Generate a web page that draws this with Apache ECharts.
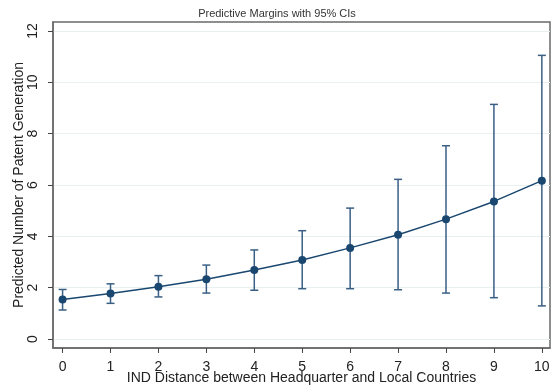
<!DOCTYPE html>
<html>
<head>
<meta charset="utf-8">
<script src="https://cdn.jsdelivr.net/npm/echarts@6/dist/echarts.min.js"></script>
<style>
  html, body { margin: 0; padding: 0; background: #fff; }
  #chart { width: 554px; height: 392px; }
</style>
</head>
<body>
<div id="chart"></div>
<script>
// IND distance levels
const distance = [0, 1, 2, 3, 4, 5, 6, 7, 8, 9, 10];
// predicted margins and 95% confidence bounds
const margin = [1.54, 1.77, 2.04, 2.33, 2.69, 3.08, 3.55, 4.06, 4.67, 5.36, 6.17];
const ciLow  = [1.13, 1.39, 1.64, 1.79, 1.90, 1.96, 1.96, 1.92, 1.79, 1.61, 1.29];
const ciHigh = [1.93, 2.15, 2.47, 2.88, 3.47, 4.22, 5.10, 6.22, 7.53, 9.14, 11.05];
// tick labels
const xTicks = [0, 1, 2, 3, 4, 5, 6, 7, 8, 9, 10];
const yTicks = [0, 2, 4, 6, 8, 10, 12];

const navy = '#1a476f';
const font = 'Liberation Sans, Arial, sans-serif';

const chart = echarts.init(document.getElementById('chart'), null, { renderer: 'canvas' });

const ciData = distance.map((d, i) => [d, ciLow[i], ciHigh[i]]);
const lineData = distance.map((d, i) => [d, margin[i]]);

chart.setOption({
  animation: false,
  title: {
    text: 'Predictive Margins with 95% CIs',
    left: 'center',
    top: 3,
    textStyle: { fontFamily: font, fontSize: 11, fontWeight: 'normal', color: '#333' }
  },
  grid: {
    left: 53, right: 4, top: 22, bottom: 44,
    outerBoundsMode: 'none',
    containLabel: false,
    show: true, borderColor: '#6a6a6a', borderWidth: 1.5, backgroundColor: '#fff'
  },
  xAxis: {
    type: 'value',
    min: -0.2,
    max: 10.17,
    name: 'IND Distance between Headquarter and Local Countries',
    nameLocation: 'middle',
    nameGap: 23,
    nameMoveOverlap: false,
    nameTextStyle: { fontFamily: font, fontSize: 14, color: '#222' },
    axisLine: { show: true, onZero: false, lineStyle: { color: '#6a6a6a', width: 1.5 } },
    axisTick: { show: true, length: 5, customValues: xTicks, lineStyle: { color: '#444' } },
    axisLabel: { customValues: xTicks, fontFamily: font, fontSize: 14, color: '#222', margin: 12 },
    splitLine: { show: false }
  },
  yAxis: {
    type: 'value',
    min: -0.35,
    max: 12.35,
    name: 'Predicted Number of Patent Generation',
    nameLocation: 'middle',
    nameGap: 27,
    nameMoveOverlap: false,
    nameTextStyle: { fontFamily: font, fontSize: 14, color: '#222' },
    axisLine: { show: true, onZero: false, lineStyle: { color: '#6a6a6a', width: 1.5 } },
    axisTick: { show: true, length: 5, customValues: yTicks, lineStyle: { color: '#444' } },
    axisLabel: { customValues: yTicks, rotate: 90, fontFamily: font, fontSize: 14, color: '#222', margin: 13 },
    splitLine: { show: true, lineStyle: { color: '#e8f0f2', width: 1 } }
  },
  series: [
    {
      type: 'custom',
      name: 'CI',
      data: ciData,
      z: 2,
      renderItem: function (params, api) {
        const x = api.value(0);
        const lo = api.coord([x, api.value(1)]);
        const hi = api.coord([x, api.value(2)]);
        const half = 4;
        const style = { stroke: '#3a5f85', lineWidth: 1.5 };
        return {
          type: 'group',
          children: [
            { type: 'line', shape: { x1: lo[0], y1: lo[1], x2: hi[0], y2: hi[1] }, style: style },
            { type: 'line', shape: { x1: lo[0] - half, y1: lo[1], x2: lo[0] + half, y2: lo[1] }, style: style },
            { type: 'line', shape: { x1: hi[0] - half, y1: hi[1], x2: hi[0] + half, y2: hi[1] }, style: style }
          ]
        };
      }
    },
    {
      type: 'line',
      name: 'Margin',
      data: lineData,
      z: 3,
      symbol: 'circle',
      symbolSize: 8,
      lineStyle: { color: navy, width: 1.5 },
      itemStyle: { color: navy }
    }
  ]
});
</script>
</body>
</html>
